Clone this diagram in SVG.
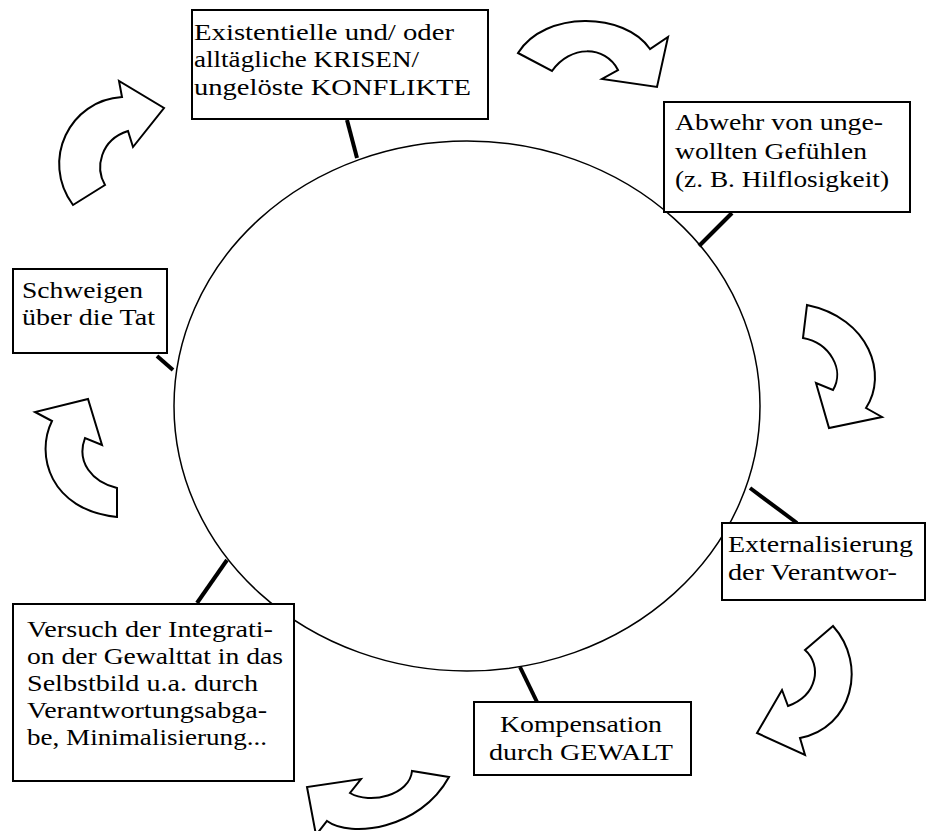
<svg xmlns="http://www.w3.org/2000/svg" width="927" height="831" viewBox="0 0 927 831">
<style>
.box{fill:#fff;stroke:#000;stroke-width:2}
.arr{fill:#fff;stroke:#000;stroke-width:2;stroke-linejoin:miter}
.con{stroke:#000;stroke-width:4;fill:none}
</style>
<rect width="927" height="831" fill="#fff"/>
<ellipse id="cycle" cx="467" cy="406" rx="293" ry="265" fill="none" stroke="#000" stroke-width="1.5"/>
<g id="arrows">
<path class="arr" d="M73,205 L105,185 C95,168 100,140 128,131 L133,147 L164,108 L119,81 L122,97 C70,100 40,160 73,205 Z"/>
<path class="arr" d="M518,53 L552,71 C570,45 605,45 618,70 L602,79 L657,87 L668,37 L650,49 C625,12 545,10 518,53 Z"/>
<path class="arr" d="M807,305 L803,338 C830,343 845,370 833,390 L816,383 L829,428 L882,417 L866,408 C888,375 870,318 807,305 Z"/>
<path class="arr" d="M833,626 L805,650 C822,665 818,695 788,706 L782,690 L757,733 L805,755 L800,738 C852,728 868,665 833,626 Z"/>
<path class="arr" d="M449,777 L412,771 C410,795 370,805 350,793 L361,779 L307,787 L316,835 L327,821 C350,838 420,830 449,777 Z"/>
<path class="arr" d="M117,517 L117,488 C92,482 76,462 85,438 L102,445 L88,399 L35,412 L52,421 C35,455 50,510 117,517 Z"/>
</g>
<g id="connectors">
<line class="con" x1="347" y1="120" x2="357" y2="158"/>
<line class="con" x1="732" y1="213" x2="699" y2="246"/>
<line class="con" x1="750" y1="488" x2="797" y2="523"/>
<line class="con" x1="520" y1="667" x2="537" y2="702"/>
<line class="con" x1="227" y1="560" x2="197" y2="603"/>
<line class="con" x1="157" y1="356" x2="173" y2="370"/>
</g>
<g font-family="Liberation Serif, DejaVu Serif, serif" font-size="23" fill="#000">
<g id="krisen">
<rect class="box" x="192" y="10" width="296" height="109"/>
<text x="194" y="40" textLength="260" lengthAdjust="spacingAndGlyphs">Existentielle und/ oder</text>
<text x="194" y="67" textLength="225" lengthAdjust="spacingAndGlyphs">alltägliche KRISEN/</text>
<text x="194" y="95" textLength="277" lengthAdjust="spacingAndGlyphs">ungelöste KONFLIKTE</text>
</g>
<g id="abwehr">
<rect class="box" x="664" y="102" width="246" height="110"/>
<text x="675" y="130" textLength="208" lengthAdjust="spacingAndGlyphs">Abwehr von unge-</text>
<text x="675" y="159" textLength="192" lengthAdjust="spacingAndGlyphs">wollten Gefühlen</text>
<text x="675" y="187" textLength="214" lengthAdjust="spacingAndGlyphs">(z. B. Hilflosigkeit)</text>
</g>
<g id="externalisierung">
<rect class="box" x="722" y="523" width="203" height="77"/>
<text x="728" y="552" textLength="185" lengthAdjust="spacingAndGlyphs">Externalisierung</text>
<text x="728" y="580" textLength="169" lengthAdjust="spacingAndGlyphs">der Verantwor-</text>
</g>
<g id="kompensation">
<rect class="box" x="474" y="702" width="217" height="73"/>
<text x="500" y="732" textLength="162" lengthAdjust="spacingAndGlyphs">Kompensation</text>
<text x="489" y="760" textLength="184" lengthAdjust="spacingAndGlyphs">durch GEWALT</text>
</g>
<g id="versuch">
<rect class="box" x="13" y="604" width="281" height="177"/>
<text x="27" y="637" textLength="246" lengthAdjust="spacingAndGlyphs">Versuch der Integrati-</text>
<text x="27" y="664" textLength="256" lengthAdjust="spacingAndGlyphs">on der Gewalttat in das</text>
<text x="27" y="691" textLength="231" lengthAdjust="spacingAndGlyphs">Selbstbild u.a. durch</text>
<text x="27" y="718" textLength="240" lengthAdjust="spacingAndGlyphs">Verantwortungsabga-</text>
<text x="27" y="745" textLength="240" lengthAdjust="spacingAndGlyphs">be, Minimalisierung...</text>
</g>
<g id="schweigen">
<rect class="box" x="13" y="269" width="154" height="84"/>
<text x="22" y="298" textLength="121" lengthAdjust="spacingAndGlyphs">Schweigen</text>
<text x="22" y="325" textLength="133" lengthAdjust="spacingAndGlyphs">über die Tat</text>
</g>
</g>
</svg>
